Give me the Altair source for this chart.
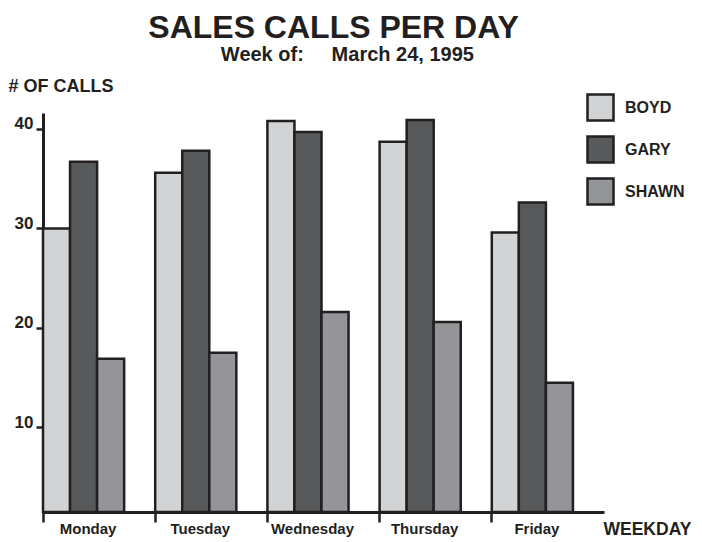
import altair as alt
import pandas as pd

days = ["Monday", "Tuesday", "Wednesday", "Thursday", "Friday"]
people = ["BOYD", "GARY", "SHAWN"]
boyd = [30.0, 35.6, 40.8, 38.7, 29.6]
gary = [36.7, 37.8, 39.7, 40.9, 32.6]
shawn = [16.9, 17.5, 21.6, 20.6, 14.5]
colors = ["#d1d3d4", "#58595b", "#939598"]
y_ticks = [10, 20, 30, 40]
y_domain = [1.5, 41.6]

rows = []
for name, vals in zip(people, [boyd, gary, shawn]):
    for d, v in zip(days, vals):
        rows.append({"day": d, "person": name, "calls": v})
df = pd.DataFrame(rows)

FONT = "Liberation Sans"
INK = "#231f20"
NB = "\u00a0"
ZW = "\u200b"

chart = alt.Chart(df).mark_bar(stroke=INK, strokeWidth=2.5).encode(
    x=alt.X("day:N", sort=days,
            scale=alt.Scale(paddingInner=0, paddingOuter=0),
            axis=alt.Axis(title="WEEKDAY", labelAngle=0, bandPosition=0,
                          labelOffset=-11, labelBaseline="alphabetic",
                          labelPadding=11, tickSize=10, tickWidth=2.5,
                          domainWidth=3, domainColor=INK, tickColor=INK,
                          labelColor=INK, labelFont=FONT, labelFontSize=15,
                          labelFontWeight="bold",
                          titleFont=FONT, titleFontSize=17.5, titleFontWeight="bold",
                          titleColor=INK, titleAlign="left", titleBaseline="alphabetic",
                          titleX=560, titleY=22)),
    xOffset=alt.XOffset("person:N", sort=people,
                        scale=alt.Scale(paddingInner=0, paddingOuter=0.574, align=0)),
    y=alt.Y("calls:Q",
            scale=alt.Scale(domain=y_domain, zero=False, nice=False),
            axis=alt.Axis(title="# OF CALLS", values=y_ticks, grid=False,
                          tickSize=7, tickWidth=2.5, labelPadding=3,
                          domainWidth=3, domainColor=INK, tickColor=INK,
                          labelColor=INK, labelFont=FONT, labelFontSize=17,
                          labelFontWeight="bold", labelBaseline="alphabetic",
                          titleFont=FONT, titleFontSize=18, titleFontWeight="bold",
                          titleColor=INK, titleAngle=0, titleAlign="left",
                          titleBaseline="alphabetic", titleX=-35, titleY=-22)),
    y2=alt.Y2(datum=y_domain[0]),
    color=alt.Color("person:N", sort=people,
                    scale=alt.Scale(domain=people, range=colors),
                    legend=alt.Legend(title=None, orient="none", legendX=543, legendY=-20,
                                      symbolType="square", symbolSize=676,
                                      symbolStrokeColor=INK, symbolStrokeWidth=2.5,
                                      symbolOpacity=1, rowPadding=5, labelOffset=10,
                                      labelFont=FONT, labelFontSize=16,
                                      labelFontWeight="bold", labelColor=INK,
                                      padding=0)),
).properties(
    width=561,
    height=399,
    padding={"left": 0, "top": 4, "right": 0, "bottom": 0},
    title=alt.TitleParams(
        text="SALES CALLS PER DAY",
        subtitle=ZW + NB * 5 + "Week of:" + NB * 5 + "March 24, 1995",
        font=FONT, fontSize=32, fontWeight="bold", color=INK,
        subtitleFont=FONT, subtitleFontSize=20, subtitleFontWeight="bold",
        subtitleColor=INK, subtitlePadding=0, anchor="middle", dx=10, offset=11,
    ),
).configure_view(strokeWidth=0)

chart.save("out.html", embed_options={"renderer": "svg", "actions": False})
